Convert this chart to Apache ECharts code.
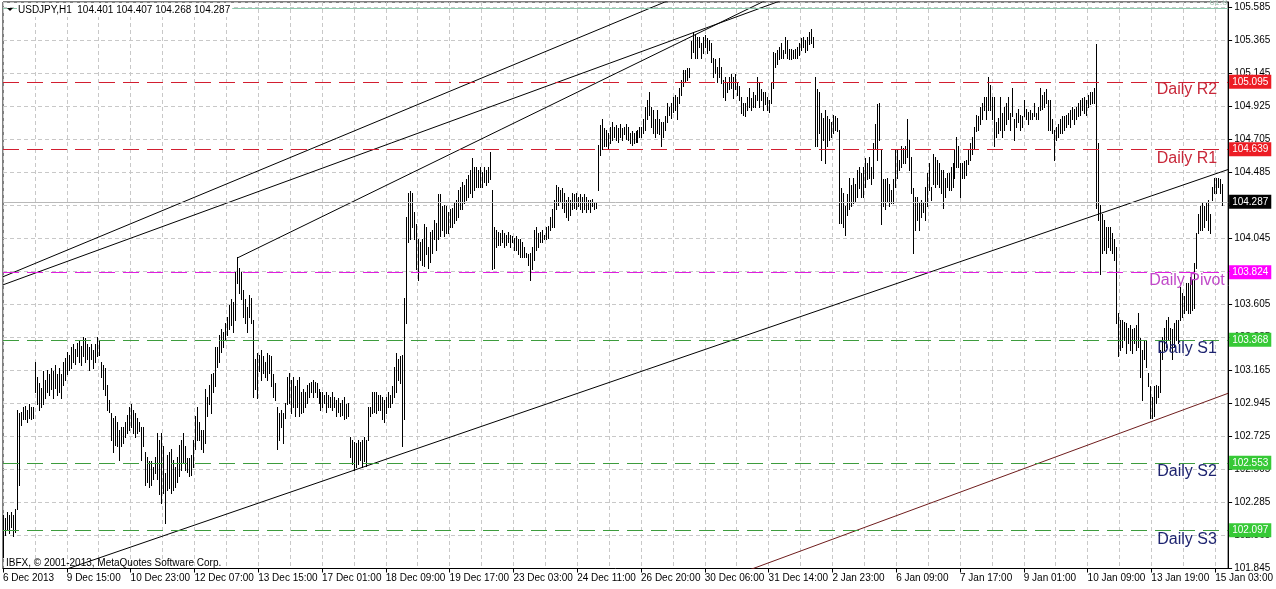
<!DOCTYPE html>
<html><head><meta charset="utf-8">
<script src="https://cdn.jsdelivr.net/npm/echarts@6/dist/echarts.min.js"></script>
<style>html,body{margin:0;padding:0;background:#fff}#c{width:1276px;height:589px}</style>
</head><body><div id="c"></div>
<script>
// ---------------- data ----------------
const symbolName = 'USDJPY,H1';
const lastBarOHLC = [104.401, 104.407, 104.268, 104.287];
const copyrightText = 'IBFX, \u00a9 2001-2013, MetaQuotes Software Corp.';

const xLabels = ['6 Dec 2013','9 Dec 15:00','10 Dec 23:00','12 Dec 07:00','13 Dec 15:00','17 Dec 01:00',
  '18 Dec 09:00','19 Dec 17:00','23 Dec 03:00','24 Dec 11:00','26 Dec 20:00','30 Dec 06:00','31 Dec 14:00',
  '2 Jan 23:00','6 Jan 09:00','7 Jan 17:00','9 Jan 01:00','10 Jan 09:00','13 Jan 19:00','15 Jan 03:00'];

const yTickLabels = ['101.845','102.065','102.285','102.505','102.725','102.945','103.165','103.385','103.605',
  '103.825','104.045','104.265','104.485','104.705','104.925','105.145','105.365','105.585'];

const highs = [
102.20,102.18,102.22,102.20,102.22,102.20,102.24,102.90,102.88,102.89,
102.92,102.93,102.90,102.94,102.92,102.92,103.22,103.12,103.08,103.05,
103.16,103.10,103.17,103.14,103.18,103.16,103.20,103.14,103.18,103.14,
103.22,103.25,103.29,103.27,103.32,103.34,103.31,103.35,103.37,103.33,
103.39,103.38,103.34,103.32,103.34,103.30,103.34,103.39,103.37,103.22,
103.20,103.18,103.07,102.97,102.88,102.85,102.86,102.82,102.77,102.79,
102.79,102.82,102.87,102.92,102.94,102.90,102.88,102.85,102.82,102.79,
102.79,102.62,102.59,102.56,102.56,102.52,102.59,102.75,102.70,102.75,
102.66,102.48,102.60,102.62,102.64,102.57,102.52,102.59,102.67,102.70,
102.75,102.66,102.58,102.58,102.60,102.70,102.86,102.92,102.82,102.77,
102.77,103.04,102.99,103.07,103.14,103.15,103.32,103.32,103.40,103.44,
103.42,103.48,103.52,103.60,103.64,103.62,103.82,103.92,103.85,103.82,
103.70,103.64,103.59,103.67,103.65,103.50,103.24,103.28,103.27,103.30,
103.26,103.22,103.28,103.27,103.26,103.14,103.08,102.92,102.88,102.90,
102.88,102.95,103.12,103.15,103.10,103.12,103.06,103.10,103.12,103.02,
103.04,103.02,103.07,103.08,103.09,103.10,103.09,103.08,103.04,103.02,
103.02,103.00,103.02,103.00,102.99,103.02,102.99,102.97,102.98,102.95,
102.97,102.99,102.94,102.95,102.72,102.70,102.69,102.68,102.70,102.69,
102.70,102.72,102.70,102.92,102.92,103.02,103.02,103.02,103.00,103.00,
102.99,102.97,102.99,103.02,103.00,103.06,103.19,103.28,103.24,103.26,
103.27,103.65,104.19,104.35,104.36,104.35,104.22,104.14,104.04,104.02,
104.04,104.14,104.12,103.99,104.09,104.10,104.17,104.15,104.34,104.34,
104.26,104.27,104.26,104.22,104.24,104.25,104.28,104.30,104.37,104.39,
104.42,104.40,104.44,104.47,104.50,104.58,104.52,104.52,104.50,104.52,
104.49,104.52,104.50,104.52,104.62,104.37,104.12,104.10,104.09,104.08,
104.10,104.08,104.07,104.09,104.07,104.06,104.05,104.06,104.04,104.04,
104.02,103.99,103.95,103.94,103.95,103.99,104.10,104.12,104.08,104.09,
104.10,104.07,104.12,104.13,104.19,104.24,104.30,104.40,104.39,104.37,
104.38,104.35,104.30,104.32,104.30,104.35,104.34,104.35,104.32,104.34,
104.32,104.34,104.32,104.30,104.30,104.31,104.29,104.29,104.67,104.80,
104.84,104.78,104.77,104.75,104.79,104.82,104.79,104.80,104.78,104.81,
104.78,104.79,104.81,104.79,104.75,104.76,104.75,104.76,104.77,104.79,
104.79,104.84,104.92,104.97,105.02,104.92,104.90,104.84,104.90,104.84,
104.82,104.82,104.86,104.95,104.92,104.95,104.99,105.00,104.99,105.05,
105.10,105.17,105.17,105.18,105.18,105.36,105.42,105.41,105.39,105.39,
105.35,105.39,105.40,105.38,105.37,105.35,105.25,105.24,105.19,105.25,
105.19,105.10,105.12,105.08,105.12,105.14,105.12,105.14,105.09,105.06,
104.99,104.95,104.95,104.99,105.05,104.98,105.02,105.00,105.12,105.09,
105.04,105.02,105.02,104.99,104.97,105.09,105.29,105.28,105.30,105.32,
105.35,105.30,105.39,105.37,105.31,105.31,105.30,105.31,105.32,105.35,
105.38,105.39,105.37,105.39,105.42,105.44,105.39,105.12,105.04,105.02,
104.88,104.85,104.90,104.86,104.84,104.82,104.87,104.86,104.85,104.77,
104.38,104.35,104.26,104.34,104.45,104.40,104.45,104.41,104.50,104.52,
104.48,104.52,104.58,104.55,104.59,104.52,104.68,104.81,104.94,104.95,
104.64,104.44,104.44,104.45,104.41,104.37,104.44,104.64,104.64,104.57,
104.66,104.65,104.66,104.84,104.70,104.59,104.38,104.32,104.32,104.28,
104.30,104.29,104.39,104.48,104.55,104.39,104.61,104.59,104.57,104.55,
104.50,104.50,104.45,104.48,104.48,104.52,104.55,104.64,104.72,104.66,
104.55,104.55,104.56,104.57,104.64,104.68,104.72,104.79,104.87,104.86,
104.92,104.95,104.99,104.99,105.12,105.07,104.99,104.99,104.82,104.85,
104.99,104.88,104.92,104.95,104.99,104.88,105.05,104.84,104.88,104.91,
104.87,104.86,104.97,104.91,104.89,104.90,104.88,104.95,104.88,104.92,
105.05,105.00,105.02,105.04,104.97,104.97,104.84,104.77,104.79,104.81,
104.84,104.86,104.86,104.87,104.88,104.90,104.92,104.91,104.92,104.95,
104.97,104.98,104.99,104.97,105.00,105.02,105.02,105.05,105.34,104.68,
104.27,104.21,104.17,104.12,104.12,104.12,104.08,104.04,103.99,103.55,
103.50,103.50,103.49,103.48,103.45,103.47,103.44,103.45,103.47,103.55,
103.38,103.30,103.37,103.37,103.15,103.06,102.99,103.06,103.07,103.06,
103.30,103.39,103.45,103.50,103.52,103.45,103.44,103.48,103.50,103.50,
103.72,103.68,103.66,103.75,103.75,103.79,103.77,103.88,104.08,104.21,
104.26,104.28,104.26,104.28,104.30,104.21,104.39,104.45,104.45,104.45,
104.44,104.407];

const lows = [
101.92,102.07,102.10,102.08,102.12,102.06,102.09,102.24,102.40,102.80,
102.84,102.84,102.82,102.85,102.84,102.85,103.02,102.94,102.90,102.92,
102.94,102.98,103.02,103.00,103.04,102.98,103.05,103.00,103.02,102.98,
103.07,103.10,103.14,103.17,103.18,103.22,103.21,103.26,103.22,103.20,
103.26,103.22,103.24,103.17,103.24,103.18,103.22,103.26,103.27,103.12,
103.04,103.00,102.90,102.89,102.70,102.62,102.67,102.66,102.57,102.66,
102.68,102.72,102.75,102.77,102.79,102.75,102.72,102.75,102.76,102.57,
102.66,102.40,102.42,102.39,102.40,102.44,102.48,102.44,102.34,102.28,
102.35,102.15,102.37,102.38,102.35,102.37,102.39,102.42,102.46,102.50,
102.55,102.50,102.49,102.46,102.47,102.52,102.64,102.70,102.70,102.64,
102.62,102.68,102.86,102.94,102.88,103.02,103.06,103.19,103.22,103.29,
103.32,103.37,103.40,103.44,103.47,103.42,103.50,103.75,103.68,103.64,
103.52,103.48,103.42,103.52,103.48,102.99,103.04,102.98,103.16,103.10,
103.15,103.12,103.10,103.15,103.06,102.99,102.97,102.64,102.70,102.79,
102.68,102.85,102.94,102.95,102.88,102.92,102.86,102.92,102.86,102.88,
102.89,102.92,102.95,102.99,103.02,102.99,103.02,102.99,102.95,102.90,
102.92,102.95,102.89,102.92,102.92,102.90,102.92,102.86,102.89,102.86,
102.87,102.84,102.85,102.86,102.59,102.54,102.50,102.52,102.54,102.57,
102.52,102.56,102.53,102.70,102.86,102.88,102.89,102.88,102.90,102.90,
102.84,102.82,102.88,102.92,102.92,102.95,102.99,103.02,103.10,103.08,
102.66,102.84,103.48,104.02,104.04,104.12,104.04,103.84,103.77,103.90,
103.87,103.86,103.94,103.85,103.89,103.95,104.04,103.97,104.04,104.06,
104.10,104.06,104.08,104.08,104.12,104.12,104.15,104.17,104.19,104.24,
104.24,104.28,104.30,104.32,104.35,104.32,104.37,104.39,104.39,104.39,
104.39,104.42,104.40,104.42,104.44,103.84,103.85,103.99,104.00,104.00,
104.02,103.99,104.00,104.02,103.99,104.02,103.97,103.97,103.94,103.92,
103.92,103.92,103.92,103.87,103.77,103.84,103.90,103.97,103.99,104.02,
104.02,104.04,104.04,104.05,104.10,104.12,104.12,104.24,104.27,104.29,
104.25,104.22,104.19,104.17,104.20,104.24,104.25,104.24,104.26,104.24,
104.22,104.24,104.22,104.24,104.22,104.26,104.24,104.25,104.37,104.60,
104.64,104.66,104.66,104.65,104.68,104.70,104.72,104.70,104.69,104.72,
104.70,104.74,104.71,104.70,104.68,104.67,104.68,104.69,104.69,104.72,
104.72,104.75,104.77,104.84,104.87,104.79,104.75,104.72,104.75,104.74,
104.66,104.72,104.77,104.82,104.87,104.85,104.89,104.90,104.84,104.95,
105.00,105.06,105.09,105.10,105.12,105.25,105.29,105.25,105.25,105.32,
105.25,105.28,105.32,105.28,105.30,105.22,105.12,105.15,105.09,105.12,
105.08,104.99,104.97,105.02,105.04,105.05,104.98,105.04,105.00,104.97,
104.88,104.87,104.86,104.90,104.92,104.90,104.92,104.92,104.97,104.92,
104.97,104.90,104.94,104.90,104.89,104.95,105.05,105.19,105.21,105.24,
105.25,105.25,105.28,105.25,105.24,105.24,105.25,105.25,105.25,105.27,
105.30,105.32,105.29,105.30,105.34,105.35,105.32,104.66,104.66,104.75,
104.57,104.70,104.55,104.66,104.70,104.72,104.75,104.77,104.76,104.15,
104.15,104.12,104.07,104.20,104.24,104.26,104.28,104.29,104.32,104.38,
104.32,104.32,104.39,104.44,104.45,104.41,104.45,104.64,104.57,104.70,
104.14,104.26,104.24,104.29,104.26,104.28,104.28,104.39,104.45,104.50,
104.52,104.55,104.55,104.59,104.50,104.35,103.95,104.10,104.17,104.10,
104.19,104.22,104.17,104.26,104.37,104.30,104.41,104.39,104.41,104.39,
104.35,104.25,104.32,104.39,104.37,104.37,104.39,104.45,104.52,104.52,
104.32,104.45,104.45,104.47,104.54,104.57,104.61,104.64,104.76,104.77,
104.81,104.84,104.90,104.84,104.90,104.90,104.84,104.66,104.72,104.75,
104.77,104.72,104.77,104.81,104.84,104.77,104.86,104.70,104.79,104.82,
104.77,104.79,104.86,104.84,104.81,104.84,104.84,104.86,104.84,104.84,
104.90,104.91,104.92,104.95,104.77,104.77,104.75,104.57,104.70,104.72,
104.75,104.75,104.77,104.79,104.81,104.79,104.84,104.81,104.84,104.86,
104.87,104.90,104.88,104.87,104.92,104.94,104.95,104.95,104.25,104.17,
103.81,103.95,103.97,103.95,103.99,103.97,103.95,103.90,103.48,103.26,
103.30,103.32,103.37,103.28,103.35,103.30,103.28,103.35,103.30,103.32,
103.12,102.97,103.24,103.19,103.06,102.85,102.85,102.86,102.95,102.99,
103.02,103.24,103.30,103.32,103.37,103.30,103.24,103.32,103.37,103.35,
103.50,103.52,103.55,103.57,103.55,103.55,103.57,103.58,103.85,104.08,
104.10,104.10,104.12,104.17,104.10,104.08,104.30,104.35,104.35,104.39,
104.35,104.268];

const levelNames  = ['Daily R2','Daily R1','Daily Pivot','Daily S1','Daily S2','Daily S3'];
const levelValues = [105.095, 104.639, 103.824, 103.368, 102.553, 102.097];
const fibName = '61.8';
const fibValue = 105.575;

// trend lines: [bar index, price] end points
const trendLines = [
  [[0, 103.790], [340, 105.666]],
  [[0, 103.736], [390, 105.630]],
  [[117.5, 103.915], [390, 105.681]],
  [[0, 101.695], [614.5, 104.505]],
  [[372, 101.824], [614.5, 103.013]]
];

// ---------------- styles ----------------
const FONT = '"Liberation Sans", Arial, sans-serif';
const GRID_COLOR = '#c8c8c8';
const levelLineColors = ['#d21e30','#d21e30','#e01ee0','#3d9c3d','#3d9c3d','#3d9c3d'];
const levelBoxColors  = ['#ec1c24','#ec1c24','#ff00ff','#36c936','#36c936','#36c936'];
const levelTextColors = ['#c8283a','#c8283a','#c048c8','#1e2470','#1e2470','#1e2470'];
const trendColors = ['#000','#000','#000','#000','#6e1c1c'];

const Y0 = 101.845, YSTEP = 0.22, YMAX = 105.62167, XMAX = 614.5;

const chart = echarts.init(document.getElementById('c'), null, {renderer: 'canvas', width: 1276, height: 589});

const barData = highs.map((h, i) => [i + 0.5, lows[i], h]);

function isInt(v) { return Math.abs(v - Math.round(v)) < 1e-6; }

const markData = levelValues.map((v, k) => ({
  yAxis: v,
  lineStyle: {color: levelLineColors[k], type: [16, 8], width: 1},
  label: {show: true, position: 'end', formatter: v.toFixed(3), backgroundColor: levelBoxColors[k],
    color: '#fff', padding: [1, 3, 1, 3], lineHeight: 12, fontSize: 10, fontFamily: FONT, distance: 1}
}));
markData.push({
  yAxis: lastBarOHLC[3],
  lineStyle: {color: '#b8b8b8', type: 'solid', width: 1},
  label: {show: true, position: 'end', formatter: lastBarOHLC[3].toFixed(3), backgroundColor: '#000',
    color: '#fff', padding: [1, 3, 1, 3], lineHeight: 12, fontSize: 10, fontFamily: FONT, distance: 1}
});
markData.push({
  yAxis: fibValue,
  lineStyle: {color: '#8cc8ac', type: 'solid', width: 1},
  label: {show: true, position: 'insideEndTop', formatter: fibName, color: '#a8c8b8', fontSize: 9,
    fontFamily: FONT, distance: 1}
});

const series = [{
  type: 'custom',
  name: 'bars',
  xAxisIndex: 0, yAxisIndex: 0,
  clip: true,
  silent: true,
  data: barData,
  encode: {x: 0, y: [1, 2]},
  renderItem: function (params, api) {
    const x = api.value(0);
    const top = api.coord([x, api.value(2)]);
    const bot = api.coord([x, api.value(1)]);
    const px = Math.floor(top[0]) + 0.5;
    return {type: 'line', silent: true,
      shape: {x1: px, y1: Math.round(top[1]), x2: px, y2: Math.round(bot[1]) + 1},
      style: {stroke: '#000', lineWidth: 1}};
  },
  z: 3
}];

trendLines.forEach((seg, k) => {
  const s = {
    type: 'line', xAxisIndex: 0, yAxisIndex: 0, data: seg, symbol: 'none', silent: true, clip: true,
    lineStyle: {color: trendColors[k], width: 1}, z: 4
  };
  if (k === 0) {
    s.markLine = {symbol: ['none', 'none'], silent: true, animation: false, data: markData, z: 5};
  }
  series.push(s);
});

const option = {
  animation: false,
  backgroundColor: '#fff',
  grid: {left: 3, right: 44, top: 2, bottom: 20.5, show: true, borderColor: '#000', borderWidth: 1, backgroundColor: '#fff'},
  xAxis: {
    type: 'value', min: 0, max: XMAX, interval: 32,
    axisLine: {show: true, onZero: false, lineStyle: {color: '#000', width: 1}},
    axisTick: {show: true, length: 4, lineStyle: {color: '#000'}},
    axisLabel: {align: 'left', margin: 5, fontSize: 10, fontFamily: FONT, color: '#000', showMaxLabel: false,
      formatter: v => (isInt(v / 32) && xLabels[Math.round(v / 32)]) ? xLabels[Math.round(v / 32)] : ''},
    splitLine: {show: true, lineStyle: {color: GRID_COLOR, type: [4, 3], width: 1}},
    minorTick: {show: false, splitNumber: 2},
    minorSplitLine: {show: true, lineStyle: {color: GRID_COLOR, type: [4, 3], width: 1}}
  },
  yAxis: [
    {type: 'value', min: Y0, max: YMAX, show: false, splitLine: {show: false}},
    {type: 'value', min: 0, max: (YMAX - Y0) / YSTEP, interval: 1, position: 'right',
      axisLine: {show: true, onZero: false, lineStyle: {color: '#000', width: 1}},
      axisTick: {show: true, inside: false, length: 4, lineStyle: {color: '#000'}},
      axisLabel: {margin: 6, fontSize: 10, fontFamily: FONT, color: '#000', showMaxLabel: false,
        formatter: v => isInt(v) && yTickLabels[Math.round(v)] ? yTickLabels[Math.round(v)] : ''},
      splitLine: {show: true, lineStyle: {color: GRID_COLOR, type: [4, 3], width: 1}}
    }
  ],
  series: series
};

chart.setOption(option);

const gfx = [];
levelValues.forEach((v, k) => {
  const y = chart.convertToPixel({xAxisIndex: 0, yAxisIndex: 0}, [0, v])[1];
  gfx.push({type: 'text', x: 1187, y: y + 9, z: 100, silent: true,
    style: {text: levelNames[k], fill: levelTextColors[k], font: '16px ' + FONT,
      align: 'center', textAlign: 'center', verticalAlign: 'middle', textVerticalAlign: 'middle'}});
});
gfx.push({type: 'text', x: 17, y: 10, z: 100, silent: true,
  style: {text: symbolName + '  ' + lastBarOHLC.map(v => v.toFixed(3)).join(' '), fill: '#000',
    font: '10px ' + FONT, backgroundColor: '#fff', padding: [2, 2, 2, 1],
    verticalAlign: 'middle', textVerticalAlign: 'middle'}});
gfx.push({type: 'polygon', z: 101, silent: true, shape: {points: [[7, 8], [13, 8], [10, 11]]}, style: {fill: '#000'}});
gfx.push({type: 'text', x: 6, y: 563, z: 100, silent: true,
  style: {text: copyrightText, fill: '#000', font: '10px ' + FONT, verticalAlign: 'middle', textVerticalAlign: 'middle'}});

chart.setOption({graphic: {elements: gfx}});
</script>
</body></html>
